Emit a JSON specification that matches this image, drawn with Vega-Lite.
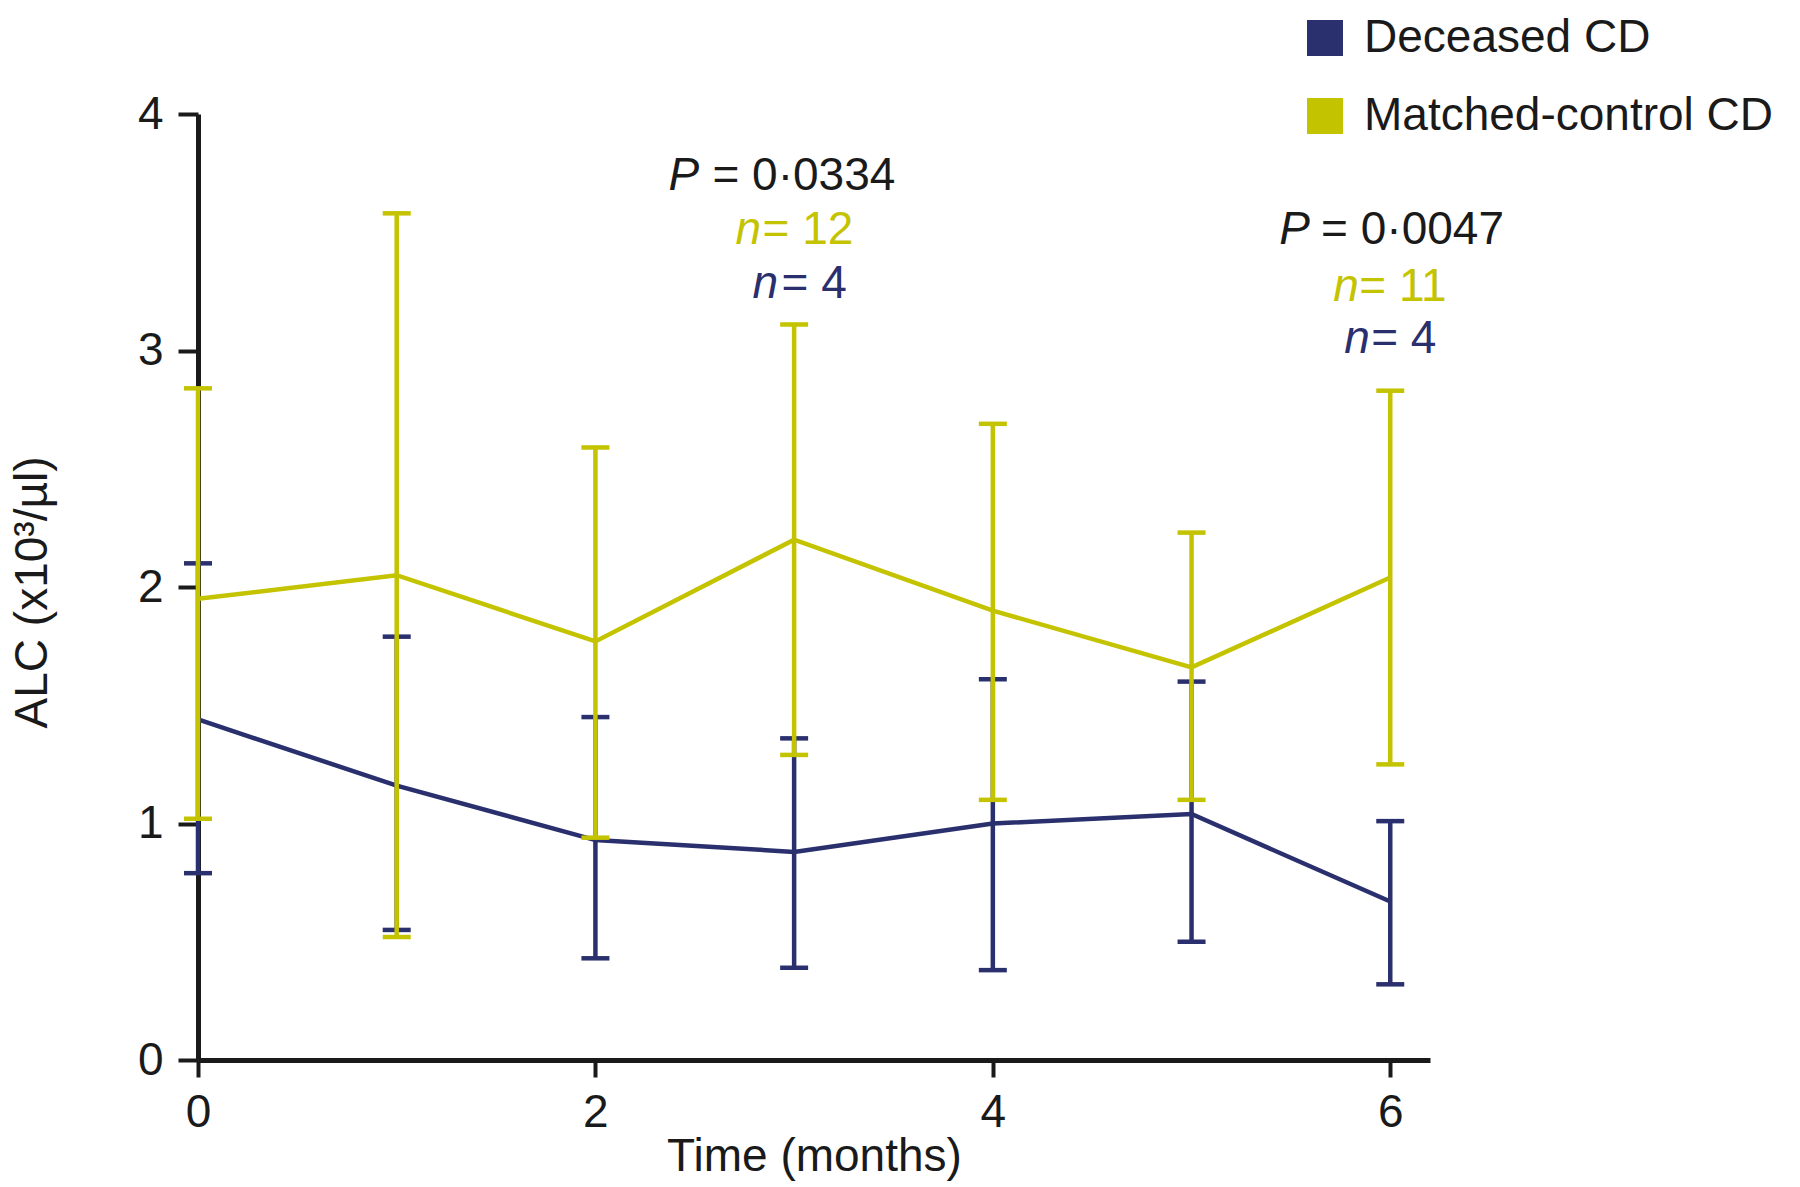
{
  "$schema": "https://vega.github.io/schema/vega-lite/v6.json",
  "width": 1232,
  "height": 946,
  "autosize": {"type": "none"},
  "padding": {"left": 198, "top": 114, "right": 370, "bottom": 127},
  "background": "white",
  "config": {"view": {"stroke": null}, "font": "Liberation Sans", "tick": {"opacity": 1}},
  "datasets": {
    "alc": [
      {"series": "Deceased CD", "month": 0, "mean": 1.44, "lo": 0.79, "hi": 2.10},
      {"series": "Deceased CD", "month": 1, "mean": 1.16, "lo": 0.55, "hi": 1.79},
      {"series": "Deceased CD", "month": 2, "mean": 0.93, "lo": 0.43, "hi": 1.45},
      {"series": "Deceased CD", "month": 3, "mean": 0.88, "lo": 0.39, "hi": 1.36},
      {"series": "Deceased CD", "month": 4, "mean": 1.00, "lo": 0.38, "hi": 1.61},
      {"series": "Deceased CD", "month": 5, "mean": 1.04, "lo": 0.50, "hi": 1.60},
      {"series": "Deceased CD", "month": 6, "mean": 0.67, "lo": 0.32, "hi": 1.01},
      {"series": "Matched-control CD", "month": 0, "mean": 1.95, "lo": 1.02, "hi": 2.84},
      {"series": "Matched-control CD", "month": 1, "mean": 2.05, "lo": 0.52, "hi": 3.58},
      {"series": "Matched-control CD", "month": 2, "mean": 1.77, "lo": 0.94, "hi": 2.59},
      {"series": "Matched-control CD", "month": 3, "mean": 2.20, "lo": 1.29, "hi": 3.11},
      {"series": "Matched-control CD", "month": 4, "mean": 1.90, "lo": 1.10, "hi": 2.69},
      {"series": "Matched-control CD", "month": 5, "mean": 1.66, "lo": 1.10, "hi": 2.23},
      {"series": "Matched-control CD", "month": 6, "mean": 2.04, "lo": 1.25, "hi": 2.83}
    ],
    "notes": [
      {"who": "Statistic", "part": "var", "x": 2.368, "y": 3.68, "txt": "P"},
      {"who": "Statistic", "part": "value", "x": 2.589, "y": 3.68, "txt": "= 0·0334"},
      {"who": "Matched-control CD", "part": "var", "x": 2.705, "y": 3.45, "txt": "n"},
      {"who": "Matched-control CD", "part": "value", "x": 2.841, "y": 3.45, "txt": "= 12"},
      {"who": "Deceased CD", "part": "var", "x": 2.791, "y": 3.22, "txt": "n"},
      {"who": "Deceased CD", "part": "value", "x": 2.937, "y": 3.22, "txt": "= 4"},
      {"who": "Statistic", "part": "var", "x": 5.441, "y": 3.45, "txt": "P"},
      {"who": "Statistic", "part": "value", "x": 5.652, "y": 3.45, "txt": "= 0·0047"},
      {"who": "Matched-control CD", "part": "var", "x": 5.713, "y": 3.21, "txt": "n"},
      {"who": "Matched-control CD", "part": "value", "x": 5.844, "y": 3.21, "txt": "= 11"},
      {"who": "Deceased CD", "part": "var", "x": 5.768, "y": 2.99, "txt": "n"},
      {"who": "Deceased CD", "part": "value", "x": 5.904, "y": 2.99, "txt": "= 4"}
    ]
  },
  "layer": [
    {
      "data": {"name": "alc"},
      "transform": [{"filter": "datum.series === 'Deceased CD'"}],
      "mark": {"type": "rule", "strokeWidth": 4.5},
      "encoding": {
        "x": {
          "field": "month", "type": "quantitative",
          "scale": {"domain": [0, 6.2], "nice": false, "zero": false},
          "axis": {
            "title": "Time (months)", "values": [0, 2, 4, 6], "format": "d", "grid": false,
            "domainColor": "#1a1a1a", "domainWidth": 5, "tickColor": "#1a1a1a", "tickWidth": 4, "tickSize": 17,
            "labelFontSize": 46, "labelColor": "#1a1a1a", "labelPadding": 13, "labelFlush": false,
            "titleFontSize": 46, "titleFontWeight": "normal", "titleColor": "#1a1a1a",
            "titleY": 110, "titleBaseline": "alphabetic"
          }
        },
        "y": {
          "field": "lo", "type": "quantitative",
          "scale": {"domain": [0, 4], "nice": false},
          "axis": {
            "title": "ALC (x10³/µl)", "values": [0, 1, 2, 3, 4], "format": "d", "grid": false,
            "domainColor": "#1a1a1a", "domainWidth": 5, "tickColor": "#1a1a1a", "tickWidth": 4, "tickSize": 20,
            "labelFontSize": 46, "labelColor": "#1a1a1a", "labelPadding": 15,
            "titleFontSize": 46, "titleFontWeight": "normal", "titleColor": "#1a1a1a",
            "titleX": -152, "titleY": 478, "titleAlign": "center", "titleBaseline": "alphabetic", "titleAngle": -90
          }
        },
        "y2": {"field": "hi"},
        "color": {
          "field": "series", "type": "nominal",
          "scale": {"domain": ["Deceased CD", "Matched-control CD", "Statistic"], "range": ["#2A2F6E", "#C4C300", "#1a1a1a"]},
          "legend": {
            "values": ["Deceased CD", "Matched-control CD"], "title": null,
            "orient": "none", "legendX": 1104, "legendY": -99, "padding": 0,
            "symbolType": "square", "symbolSize": 1296, "symbolStrokeWidth": 0, "symbolOpacity": 1,
            "labelFontSize": 46, "labelColor": "#1a1a1a", "labelOffset": 16, "rowPadding": 32, "labelLimit": 600,
            "encode": {"symbols": {"update": {"fill": {"scale": "color", "field": "value"}, "strokeWidth": {"value": 0}}}}
          }
        }
      }
    },
    {
      "data": {"name": "alc"},
      "transform": [{"filter": "datum.series === 'Deceased CD'"}],
      "mark": {"type": "tick", "orient": "horizontal", "size": 28, "thickness": 4.5, "opacity": 1},
      "encoding": {
        "x": {"field": "month", "type": "quantitative"},
        "y": {"field": "lo", "type": "quantitative"},
        "color": {"field": "series", "type": "nominal"}
      }
    },
    {
      "data": {"name": "alc"},
      "transform": [{"filter": "datum.series === 'Deceased CD'"}],
      "mark": {"type": "tick", "orient": "horizontal", "size": 28, "thickness": 4.5, "opacity": 1},
      "encoding": {
        "x": {"field": "month", "type": "quantitative"},
        "y": {"field": "hi", "type": "quantitative"},
        "color": {"field": "series", "type": "nominal"}
      }
    },
    {
      "data": {"name": "alc"},
      "transform": [{"filter": "datum.series === 'Deceased CD'"}],
      "mark": {"type": "line", "strokeWidth": 4.5},
      "encoding": {
        "x": {"field": "month", "type": "quantitative"},
        "y": {"field": "mean", "type": "quantitative"},
        "color": {"field": "series", "type": "nominal"}
      }
    },
    {
      "data": {"name": "alc"},
      "transform": [{"filter": "datum.series === 'Matched-control CD'"}],
      "mark": {"type": "rule", "strokeWidth": 4.5},
      "encoding": {
        "x": {"field": "month", "type": "quantitative"},
        "y": {"field": "lo", "type": "quantitative"},
        "y2": {"field": "hi"},
        "color": {"field": "series", "type": "nominal"}
      }
    },
    {
      "data": {"name": "alc"},
      "transform": [{"filter": "datum.series === 'Matched-control CD'"}],
      "mark": {"type": "tick", "orient": "horizontal", "size": 28, "thickness": 4.5, "opacity": 1},
      "encoding": {
        "x": {"field": "month", "type": "quantitative"},
        "y": {"field": "lo", "type": "quantitative"},
        "color": {"field": "series", "type": "nominal"}
      }
    },
    {
      "data": {"name": "alc"},
      "transform": [{"filter": "datum.series === 'Matched-control CD'"}],
      "mark": {"type": "tick", "orient": "horizontal", "size": 28, "thickness": 4.5, "opacity": 1},
      "encoding": {
        "x": {"field": "month", "type": "quantitative"},
        "y": {"field": "hi", "type": "quantitative"},
        "color": {"field": "series", "type": "nominal"}
      }
    },
    {
      "data": {"name": "alc"},
      "transform": [{"filter": "datum.series === 'Matched-control CD'"}],
      "mark": {"type": "line", "strokeWidth": 4.5},
      "encoding": {
        "x": {"field": "month", "type": "quantitative"},
        "y": {"field": "mean", "type": "quantitative"},
        "color": {"field": "series", "type": "nominal"}
      }
    },
    {
      "data": {"name": "notes"},
      "transform": [{"filter": "datum.part === 'var'"}],
      "mark": {"type": "text", "align": "left", "baseline": "alphabetic", "fontSize": 46, "fontStyle": "italic"},
      "encoding": {
        "x": {"field": "x", "type": "quantitative"},
        "y": {"field": "y", "type": "quantitative"},
        "text": {"field": "txt"},
        "color": {"field": "who", "type": "nominal"}
      }
    },
    {
      "data": {"name": "notes"},
      "transform": [{"filter": "datum.part === 'value'"}],
      "mark": {"type": "text", "align": "left", "baseline": "alphabetic", "fontSize": 46},
      "encoding": {
        "x": {"field": "x", "type": "quantitative"},
        "y": {"field": "y", "type": "quantitative"},
        "text": {"field": "txt"},
        "color": {"field": "who", "type": "nominal"}
      }
    }
  ]
}
